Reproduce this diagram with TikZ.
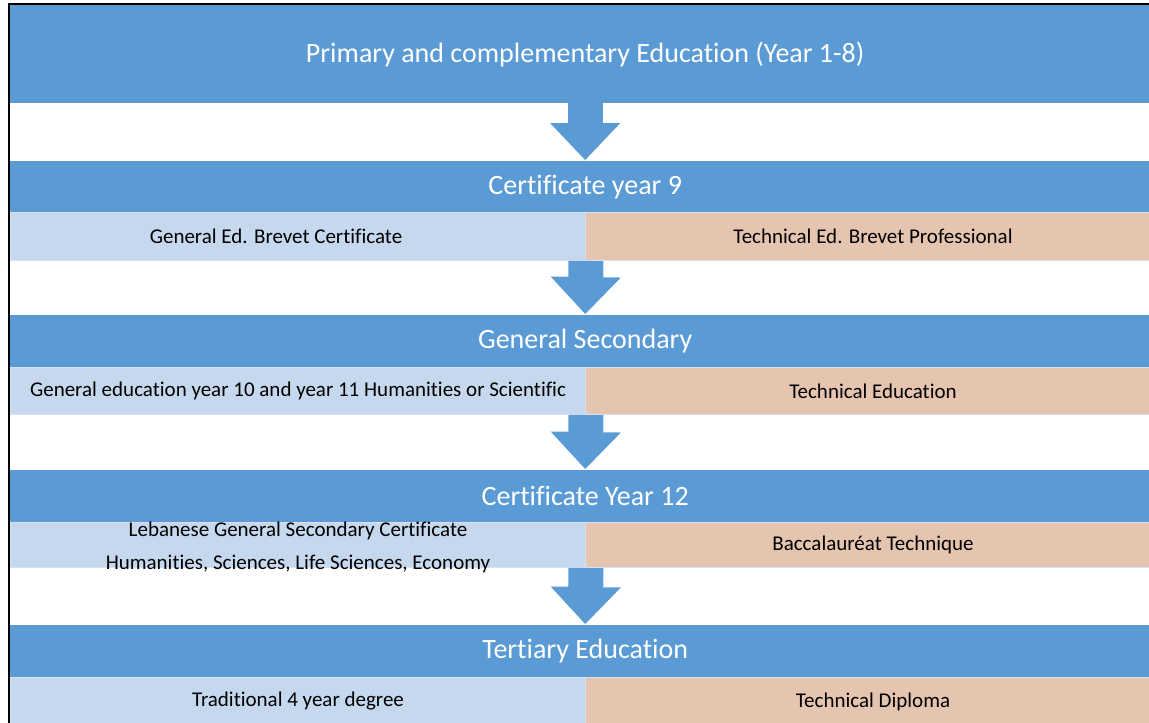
\documentclass[tikz,border=0pt]{standalone}
\usepackage{fontspec}
\setmainfont[Ligatures=NoCommon]{Carlito}
\usetikzlibrary{arrows.meta}
\usetikzlibrary{positioning}
\definecolor{bandblue}{RGB}{91,155,213}
\definecolor{genblue}{RGB}{197,216,237}
\definecolor{techpeach}{RGB}{229,197,176}
\definecolor{rulegap}{RGB}{214,226,242}
\tikzset{band/.style = {fill=bandblue, text=white, anchor=north west, inner sep=0,
                        minimum width=1150pt, minimum height=52pt,
                        font=\fontsize{28}{34}\selectfont}}
\tikzset{cell/.style = {draw=rulegap, line width=1pt, anchor=north west, inner sep=0,
                        minimum width=575pt, minimum height=47pt,
                        font=\fontsize{21}{26}\selectfont}}
\tikzset{gencell/.style = {cell, fill=genblue}}
\tikzset{techcell/.style = {cell, fill=techpeach}}
\tikzset{flow/.style = {bandblue, line width=35pt, shorten >=1pt,
                        -{Triangle[length=37pt, width=70pt, line width=1.5pt]}}}

\begin{document}
\begin{tikzpicture}[x=1pt, y=-1pt]
    \useasboundingbox (0, 0) rectangle (1149, 723);

    % top block
    \node [band, minimum height=98pt] (prim) at (10, 5)
        {Primary and complementary Education (Year 1-8)};

    % year 9
    \node [band] (cert) at (10, 161) {Certificate year 9};
    \node [gencell, minimum height=48pt] (certgen) at (10, 212)
        {General Ed. Brevet Certificate\hspace*{44pt}};
    \node [techcell, minimum height=48pt] (certtech) at (585, 212)
        {Technical Ed. Brevet Professional};

    % secondary
    \node [band] (sec) at (10, 315) {General Secondary};
    \node [gencell] (secgen) at (10, 367)
        {General education year 10 and year 11 Humanities or Scientific};
    \node [techcell] (sectech) at (585, 367) {Technical Education};

    % year 12
    \node [band] (bac) at (10, 470) {Certificate Year 12};
    \node [gencell, minimum height=45pt] (bacgen) at (10, 522) {};
    \node [techcell, minimum height=45pt] (bactech) at (585, 522)
        {Baccalauréat Technique};
    \node [align=center, inner sep=0, font=\fontsize{21}{33}\selectfont,
           yshift=-2pt] (bactext) at (bacgen.center)
        {Lebanese General Secondary Certificate\\
         Humanities, Sciences, Life Sciences, Economy};

    % tertiary
    \node [band] (tert) at (10, 625) {Tertiary Education};
    \node [gencell, minimum height=48pt] (tertgen) at (10, 677)
        {Traditional 4 year degree};
    \node [techcell, minimum height=48pt] (terttech) at (585, 677)
        {Technical Diploma};

    % arrows
    \draw [flow] (prim.south) -- (cert.north);
    \draw [flow] (certgen.south east) -- (sec.north);
    \draw [flow] (secgen.south east) -- (bac.north);
    \draw [flow] (bacgen.south east) -- (tert.north);

    % frame
    \draw [line width=1.5pt] (9, 723) |- (1149, 4);
\end{tikzpicture}
\end{document}
